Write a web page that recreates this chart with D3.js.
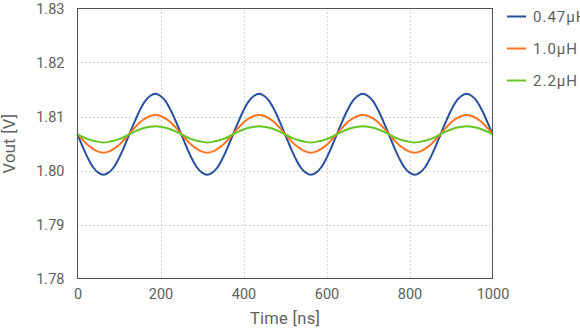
<!DOCTYPE html>
<html>
<head>
<meta charset="utf-8">
<script src="https://cdn.jsdelivr.net/npm/d3@7"></script>
<style>
  html, body { margin: 0; padding: 0; background: #fff; }
  svg { display: block; font-family: Roboto, "Liberation Sans", Arial, sans-serif; }
</style>
</head>
<body>
<svg id="chart" width="580" height="330"></svg>
<script>
// Time samples [ns], every 12.5 ns
const timeNs = d3.range(0, 1000.001, 12.5);

// Output voltage [V] for each inductor value
const vout047 = [
  1.8067, 1.8044, 1.8023, 1.8006, 1.7996, 1.7992, 1.7996, 1.8006, 1.8023, 1.8044,
  1.8067, 1.8090, 1.8111, 1.8128, 1.8138, 1.8142, 1.8138, 1.8128, 1.8111, 1.8090,
  1.8067, 1.8044, 1.8023, 1.8006, 1.7996, 1.7992, 1.7996, 1.8006, 1.8023, 1.8044,
  1.8067, 1.8090, 1.8111, 1.8128, 1.8138, 1.8142, 1.8138, 1.8128, 1.8111, 1.8090,
  1.8067, 1.8044, 1.8023, 1.8006, 1.7996, 1.7992, 1.7996, 1.8006, 1.8023, 1.8044,
  1.8067, 1.8090, 1.8111, 1.8128, 1.8138, 1.8142, 1.8138, 1.8128, 1.8111, 1.8090,
  1.8067, 1.8044, 1.8023, 1.8006, 1.7996, 1.7992, 1.7996, 1.8006, 1.8023, 1.8044,
  1.8067, 1.8090, 1.8111, 1.8128, 1.8138, 1.8142, 1.8138, 1.8128, 1.8111, 1.8090,
  1.8067
];
const vout10 = [
  1.8068, 1.8057, 1.8047, 1.8040, 1.8035, 1.8033, 1.8035, 1.8040, 1.8047, 1.8057,
  1.8068, 1.8079, 1.8089, 1.8096, 1.8101, 1.8103, 1.8101, 1.8096, 1.8089, 1.8079,
  1.8068, 1.8057, 1.8047, 1.8040, 1.8035, 1.8033, 1.8035, 1.8040, 1.8047, 1.8057,
  1.8068, 1.8079, 1.8089, 1.8096, 1.8101, 1.8103, 1.8101, 1.8096, 1.8089, 1.8079,
  1.8068, 1.8057, 1.8047, 1.8040, 1.8035, 1.8033, 1.8035, 1.8040, 1.8047, 1.8057,
  1.8068, 1.8079, 1.8089, 1.8096, 1.8101, 1.8103, 1.8101, 1.8096, 1.8089, 1.8079,
  1.8068, 1.8057, 1.8047, 1.8040, 1.8035, 1.8033, 1.8035, 1.8040, 1.8047, 1.8057,
  1.8068, 1.8079, 1.8089, 1.8096, 1.8101, 1.8103, 1.8101, 1.8096, 1.8089, 1.8079,
  1.8068
];
const vout22 = [
  1.8067, 1.8062, 1.8058, 1.8055, 1.8053, 1.8052, 1.8053, 1.8055, 1.8058, 1.8062,
  1.8067, 1.8072, 1.8076, 1.8079, 1.8081, 1.8082, 1.8081, 1.8079, 1.8076, 1.8072,
  1.8067, 1.8062, 1.8058, 1.8055, 1.8053, 1.8052, 1.8053, 1.8055, 1.8058, 1.8062,
  1.8067, 1.8072, 1.8076, 1.8079, 1.8081, 1.8082, 1.8081, 1.8079, 1.8076, 1.8072,
  1.8067, 1.8062, 1.8058, 1.8055, 1.8053, 1.8052, 1.8053, 1.8055, 1.8058, 1.8062,
  1.8067, 1.8072, 1.8076, 1.8079, 1.8081, 1.8082, 1.8081, 1.8079, 1.8076, 1.8072,
  1.8067, 1.8062, 1.8058, 1.8055, 1.8053, 1.8052, 1.8053, 1.8055, 1.8058, 1.8062,
  1.8067, 1.8072, 1.8076, 1.8079, 1.8081, 1.8082, 1.8081, 1.8079, 1.8076, 1.8072,
  1.8067
];

const seriesNames = ["0.47\u00b5H", "1.0\u00b5H", "2.2\u00b5H"];
const seriesColors = ["#28509e", "#ff7424", "#66c624"];
const xTicks = [0, 200, 400, 600, 800, 1000];
const yTicks = [1.78, 1.79, 1.80, 1.81, 1.82, 1.83];

const series = [vout047, vout10, vout22].map((vals, i) => ({
  name: seriesNames[i],
  color: seriesColors[i],
  points: vals.map((v, j) => [timeNs[j], v])
}));

const svg = d3.select("#chart");
const plot = { left: 77.5, right: 492.5, top: 8.5, bottom: 278.5 };

const x = d3.scaleLinear().domain([0, 1000]).range([plot.left, plot.right]);
const y = d3.scaleLinear().domain([1.78, 1.83]).range([plot.bottom, plot.top]);

const textColor = "#5c6161";
const frameColor = "#4f5656";

// Dotted grid
const grid = svg.append("g").attr("stroke", "#a8a8a8").attr("stroke-width", 1)
  .attr("stroke-dasharray", "1,3");
grid.selectAll(".gx").data(xTicks.slice(1, -1)).join("line")
  .attr("x1", d => Math.round(x(d)) + 0.5).attr("x2", d => Math.round(x(d)) + 0.5)
  .attr("y1", plot.top).attr("y2", plot.bottom);
grid.selectAll(".gy").data(yTicks.slice(1, -1)).join("line")
  .attr("y1", d => Math.round(y(d)) + 0.5).attr("y2", d => Math.round(y(d)) + 0.5)
  .attr("x1", plot.left).attr("x2", plot.right);

// Curves
const line = d3.line()
  .x(d => x(d[0]))
  .y(d => y(d[1]))
  .curve(d3.curveCatmullRom.alpha(0.5));

svg.append("g").selectAll("path").data(series).join("path")
  .attr("fill", "none")
  .attr("stroke", d => d.color)
  .attr("stroke-width", 2)
  .attr("d", d => line(d.points));

// Frame
svg.append("rect")
  .attr("x", plot.left).attr("y", plot.top)
  .attr("width", plot.right - plot.left).attr("height", plot.bottom - plot.top)
  .attr("fill", "none").attr("stroke", frameColor).attr("stroke-width", 1);

// Axes (labels only; frame is drawn above)
const xAxis = svg.append("g")
  .attr("transform", `translate(0,${plot.bottom})`)
  .call(d3.axisBottom(x).tickValues(xTicks).tickFormat(d3.format("d")).tickSize(0).tickPadding(10));
const yAxis = svg.append("g")
  .attr("transform", `translate(${plot.left},0)`)
  .call(d3.axisLeft(y).tickValues(yTicks).tickFormat(d3.format(".2f")).tickSize(0).tickPadding(13));
[xAxis, yAxis].forEach(g => {
  g.select(".domain").remove();
  g.selectAll("text").attr("fill", textColor).attr("font-size", 14.5)
    .attr("font-family", "Roboto, 'Liberation Sans', Arial, sans-serif");
});

// Axis titles
svg.append("text")
  .attr("x", (plot.left + plot.right) / 2).attr("y", 324)
  .attr("text-anchor", "middle").attr("fill", textColor).attr("font-size", 16.5)
  .attr("letter-spacing", 0.3)
  .text("Time [ns]");
svg.append("text")
  .attr("transform", `translate(15,${(plot.top + plot.bottom) / 2}) rotate(-90)`)
  .attr("text-anchor", "middle").attr("fill", textColor).attr("font-size", 16.5)
  .attr("letter-spacing", 0.3)
  .text("Vout [V]");

// Legend
const legend = svg.append("g").selectAll("g").data(series).join("g")
  .attr("transform", (d, i) => `translate(507,${16.5 + i * 32})`);
legend.append("line")
  .attr("x1", 0).attr("x2", 19).attr("stroke", d => d.color).attr("stroke-width", 2);
legend.append("text")
  .attr("x", 26).attr("dy", "0.35em").attr("fill", textColor).attr("font-size", 15)
  .attr("letter-spacing", 1)
  .text(d => d.name);
</script>
</body>
</html>
